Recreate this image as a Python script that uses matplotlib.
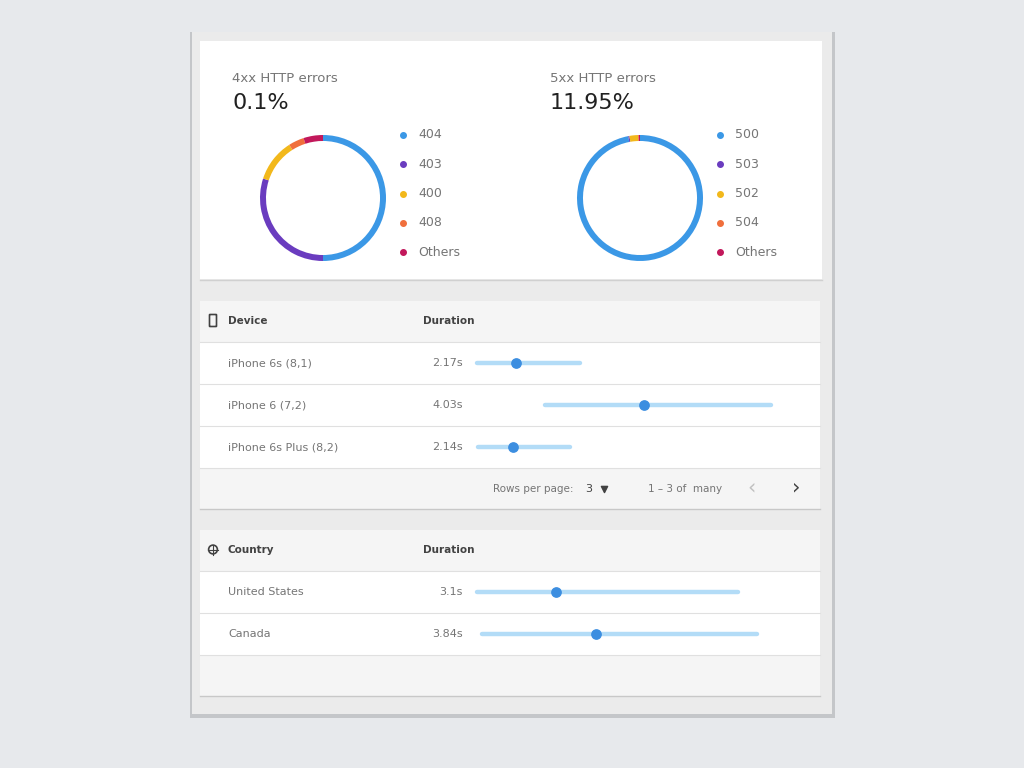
import matplotlib
matplotlib.use("Agg")
import matplotlib.pyplot as plt
from matplotlib.patches import Rectangle, FancyBboxPatch

# ---- data ----
labels_4xx = ["404", "403", "400", "408", "Others"]
share_4xx = [50, 30, 11, 4, 5]
labels_5xx = ["500", "503", "502", "504", "Others"]
share_5xx = [97, 0.3, 2.2, 0.2, 0.3]
donut_colors = ["#3b98e6", "#6a3cbf", "#f2b81b", "#f06f3c", "#c2185b"]

devices = ["iPhone 6s (8,1)", "iPhone 6 (7,2)", "iPhone 6s Plus (8,2)"]
device_dur = ["2.17s", "4.03s", "2.14s"]
device_low = [0.82, 2.33, 0.84]
device_high = [3.11, 7.36, 2.89]
device_mid = [1.69, 4.53, 1.62]

countries = ["United States", "Canada"]
country_dur = ["3.1s", "3.84s"]
country_low = [0.82, 0.93]
country_high = [6.62, 7.04]
country_mid = [2.58, 3.47]

W, H = 1024, 768
fig = plt.figure(figsize=(W / 100, H / 100), dpi=100)
fig.patch.set_facecolor("#e7e9ec")
ax = fig.add_axes([0, 0, 1, 1])
ax.set_xlim(0, W)
ax.set_ylim(H, 0)
ax.axis("off")


def box(x0, y0, x1, y1, color, z=1, **kw):
    ax.add_patch(Rectangle((x0, y0), x1 - x0, y1 - y0, facecolor=color,
                           edgecolor="none", zorder=z, **kw))


# card + shadow
box(190, 32, 835, 718, "#c4c6c9", z=0)
box(192, 32, 832, 714, "#ebebeb", z=1)
box(200, 41, 822, 279, "white", z=2)
ax.plot([200, 822], [280, 280], color="#d0d0d0", lw=1, zorder=2)

grey_text = "#757575"
dark_text = "#424242"

# donut headers
for x, title, val in [(232, "4xx HTTP errors", "0.1%"), (550, "5xx HTTP errors", "11.95%")]:
    ax.text(x, 78, title, fontsize=9.5, color=grey_text, va="center")
    ax.text(x, 103, val, fontsize=16, color="#212121", va="center")

# donuts
for cx, shares, labels in [(323, share_4xx, labels_4xx), (640, share_5xx, labels_5xx)]:
    r = 63
    dax = fig.add_axes([(cx - r) / W, 1 - (198 + r) / H, 2 * r / W, 2 * r / H])
    dax.pie(shares, colors=donut_colors, startangle=90, counterclock=False,
            radius=1, wedgeprops=dict(width=0.095, edgecolor="none"))
    dax.set_xlim(-1, 1)
    dax.set_ylim(-1, 1)
    dax.set_aspect("equal")
    for i, lab in enumerate(labels):
        y = 135 + i * 29.3
        ax.scatter(cx + 80, y, s=16, color=donut_colors[i], zorder=3)
        ax.text(cx + 95, y, lab, fontsize=9, color=grey_text, va="center", zorder=3)


def table(top, header, names, durs, lows, highs, mids, icon, footer):
    nrows = len(names)
    box(200, top, 820, top + 41, "#f5f5f5", z=2)
    ax.text(228, top + 20, header, fontsize=7.5, color=dark_text, va="center",
            fontweight="semibold", zorder=3)
    ax.text(423, top + 20, "Duration", fontsize=7.5, color=dark_text, va="center",
            fontweight="semibold", zorder=3)
    if icon == "phone":
        ax.add_patch(FancyBboxPatch((210, top + 14), 6, 11, boxstyle="round,pad=0.5",
                                    facecolor="none", edgecolor=dark_text, lw=1.2, zorder=3))
    else:
        ax.scatter(213, top + 19.5, s=40, facecolor="none", edgecolor=dark_text,
                   lw=1.2, zorder=3)
        ax.plot([208, 218], [top + 19.5, top + 19.5], color=dark_text, lw=0.8, zorder=3)
        ax.plot([213, 213], [top + 14.5, top + 24.5], color=dark_text, lw=0.8, zorder=3)
    for i in range(nrows):
        y0 = top + 41 + i * 42
        box(200, y0, 820, y0 + 42, "white", z=2)
        ax.plot([200, 820], [y0, y0], color="#e0e0e0", lw=0.8, zorder=3)
        ax.text(228, y0 + 21, names[i], fontsize=8, color=grey_text, va="center", zorder=3)
        ax.text(463, y0 + 21, durs[i], fontsize=8, color=grey_text, va="center",
                ha="right", zorder=3)
    fy = top + 41 + nrows * 42
    box(200, fy, 820, fy + 41, "#f5f5f5", z=2)
    ax.plot([200, 820], [fy, fy], color="#e0e0e0", lw=0.8, zorder=3)
    ax.plot([200, 820], [fy + 41, fy + 41], color="#c8c8c8", lw=1, zorder=3)
    if footer:
        ax.text(493, fy + 21, "Rows per page:", fontsize=7.5, color=grey_text, va="center", zorder=3)
        ax.text(585, fy + 21, "3", fontsize=8, color=dark_text, va="center", zorder=3)
        ax.scatter(604, fy + 21, marker="v", s=20, color=dark_text, zorder=3)
        ax.text(648, fy + 21, "1 – 3 of  many", fontsize=7.5, color=grey_text, va="center", zorder=3)
        ax.text(752, fy + 19, "‹", fontsize=15, color="#c0c0c0", va="center", ha="center", zorder=3)
        ax.text(796, fy + 19, "›", fontsize=15, color=dark_text, va="center", ha="center", zorder=3)

    # duration ranges on their own axis
    y_first = top + 41
    sax = fig.add_axes([440 / W, 1 - (y_first + nrows * 42) / H, 360 / W, nrows * 42 / H])
    sax.set_xlim(0, 8)
    sax.set_ylim(nrows, 0)
    sax.axis("off")
    sax.patch.set_alpha(0)
    for i in range(nrows):
        yc = i + 0.5
        sax.plot([lows[i], highs[i]], [yc, yc], color="#b3dcf7", lw=3.2,
                 solid_capstyle="round")
        sax.scatter(mids[i], yc, s=45, color="#3c8ee0", zorder=3)


table(301, "Device", devices, device_dur, device_low, device_high, device_mid, "phone", True)
table(530, "Country", countries, country_dur, country_low, country_high, country_mid, "globe", False)

fig.savefig("out.png", dpi=100, facecolor=fig.get_facecolor())
